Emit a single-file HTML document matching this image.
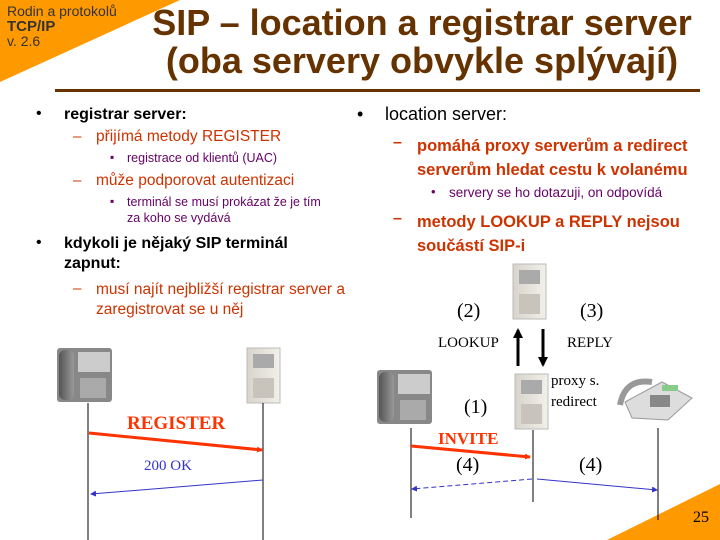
<!DOCTYPE html>
<html><head><meta charset="utf-8"><style>
body{margin:0;width:720px;height:540px;overflow:hidden;background:#fff;position:relative;font-family:"Liberation Sans",sans-serif}
.a{position:absolute;white-space:nowrap}
.t{color:#663300;font-weight:bold;font-size:36px;text-align:center;width:620px;left:112px;line-height:38px}
.s{font-family:"Liberation Serif",serif}
</style></head><body>
<svg width="720" height="540" style="position:absolute;left:0;top:0">
<defs>
<marker id="r" markerWidth="6" markerHeight="6" refX="5" refY="3" orient="auto" markerUnits="userSpaceOnUse"><path d="M0,0 L6,3 L0,6z" fill="#ff3300"/></marker>
<marker id="b" markerWidth="6" markerHeight="6" refX="5" refY="3" orient="auto" markerUnits="userSpaceOnUse"><path d="M0,0 L6,3 L0,6z" fill="#3333cc"/></marker>
<marker id="k" markerWidth="10" markerHeight="10" refX="8" refY="5" orient="auto" markerUnits="userSpaceOnUse"><path d="M0,0 L10,5 L0,10z" fill="#000"/></marker>
<linearGradient id="sv" x1="0" x2="1"><stop offset="0" stop-color="#d8d4cc"/><stop offset="1" stop-color="#f2f0ea"/></linearGradient>
<linearGradient id="ph" x1="0" x2="1"><stop offset="0" stop-color="#555"/><stop offset="1" stop-color="#999"/></linearGradient>
</defs>
<polygon points="0,0 180,0 0,82" fill="#ff9900"/>
<polygon points="720,484 720,540 607,540" fill="#ff9900"/>
<rect x="55" y="89" width="645" height="3" fill="#663300"/>
<g id="srv"><rect x="247" y="348" width="33" height="55" fill="url(#sv)" stroke="#bbb"/><rect x="253" y="354" width="21" height="14" fill="#aaa"/><rect x="253" y="378" width="21" height="20" fill="#c8c4bb"/></g>
<use href="#srv" x="266" y="-84"/>
<use href="#srv" x="268" y="26"/>
<g id="ph1"><rect x="57" y="348" width="55" height="54" rx="3" fill="#888"/><rect x="59" y="350" width="15" height="50" rx="6" fill="url(#ph)"/><rect x="78" y="352" width="32" height="20" fill="#ccc"/><rect x="80" y="378" width="26" height="20" fill="#aaa"/></g>
<use href="#ph1" x="320" y="22"/>
<path d="M625,402 L662,382 L692,398 L668,420 L632,418z" fill="#ddd" stroke="#999"/><path d="M620,405 Q625,378 652,382" stroke="#999" stroke-width="6" fill="none"/><rect x="662" y="385" width="16" height="6" fill="#8c8"/><rect x="650" y="395" width="20" height="12" fill="#888"/>
<g stroke="#000" stroke-width="1"><line x1="88" y1="403" x2="88" y2="540"/><line x1="263" y1="403" x2="263" y2="540"/><line x1="411" y1="428" x2="411" y2="518"/><line x1="533" y1="430" x2="533" y2="502"/><line x1="658" y1="428" x2="658" y2="520"/></g>
<line x1="89" y1="433" x2="262" y2="450" stroke="#ff3300" stroke-width="3" marker-end="url(#r)"/>
<line x1="263" y1="480" x2="91" y2="494" stroke="#3333cc" stroke-width="1" marker-end="url(#b)"/>
<line x1="411" y1="446" x2="530" y2="457" stroke="#ff3300" stroke-width="3" marker-end="url(#r)"/>
<line x1="532" y1="479" x2="412" y2="489" stroke="#3333cc" stroke-width="1" stroke-dasharray="5,3" marker-end="url(#b)"/>
<line x1="537" y1="479" x2="657" y2="490" stroke="#3333cc" stroke-width="1" marker-end="url(#b)"/>
<line x1="518" y1="366" x2="518" y2="330" stroke="#000" stroke-width="3" marker-end="url(#k)"/>
<line x1="543" y1="329" x2="543" y2="365" stroke="#000" stroke-width="3" marker-end="url(#k)"/>
</svg>
<div class="a" style="left:7px;top:4px;font-size:14px;color:#333;line-height:15px">Rodin a protokolů<br><b style="font-size:15px">TCP/IP</b><br>v. 2.6</div>
<div class="a t" style="top:4px">SIP – location a registrar server<br>(oba servery obvykle splývají)</div>
<div class="a" style="left:36px;top:105px;font-size:16px">•</div>
<div class="a" style="left:64px;top:106px;font-size:16px;font-weight:bold">registrar server:</div>
<div class="a" style="left:73px;top:128px;font-size:15px;color:#cc3300">–</div>
<div class="a" style="left:96px;top:128px;font-size:15.5px;color:#cc3300">přijímá metody REGISTER</div>
<div class="a" style="left:110px;top:150px;font-size:12px;color:#660066">▪</div>
<div class="a" style="left:127px;top:151px;font-size:12.5px;color:#660066">registrace od klientů (UAC)</div>
<div class="a" style="left:73px;top:172px;font-size:15px;color:#cc3300">–</div>
<div class="a" style="left:96px;top:172px;font-size:15.5px;color:#cc3300">může podporovat autentizaci</div>
<div class="a" style="left:110px;top:194px;font-size:12px;color:#660066">▪</div>
<div class="a" style="left:127px;top:194px;font-size:12.5px;color:#660066;line-height:16px">terminál se musí prokázat že je tím<br>za koho se vydává</div>
<div class="a" style="left:36px;top:234px;font-size:16px">•</div>
<div class="a" style="left:64px;top:234px;font-size:16px;line-height:20px;font-weight:bold">kdykoli je nějaký SIP terminál<br>zapnut:</div>
<div class="a" style="left:73px;top:280px;font-size:15px;color:#cc3300">–</div>
<div class="a" style="left:96px;top:280px;font-size:15.5px;color:#cc3300;line-height:20px">musí najít nejbližší registrar server a<br>zaregistrovat se u něj</div>
<div class="a" style="left:357px;top:104px;font-size:18px">•</div>
<div class="a" style="left:385px;top:104px;font-size:18px">location server:</div>
<div class="a" style="left:393px;top:134px;font-size:16px;color:#cc3300;font-weight:bold">–</div>
<div class="a" style="left:417px;top:134px;font-size:16.5px;color:#cc3300;font-weight:bold;line-height:24px">pomáhá proxy serverům a redirect<br>serverům hledat cestu k volanému</div>
<div class="a" style="left:431px;top:184px;font-size:13px;color:#660066">•</div>
<div class="a" style="left:449px;top:185px;font-size:13.5px;color:#660066">servery se ho dotazuji, on odpovídá</div>
<div class="a" style="left:393px;top:210px;font-size:16px;color:#cc3300;font-weight:bold">–</div>
<div class="a" style="left:417px;top:210px;font-size:16.5px;color:#cc3300;font-weight:bold;line-height:24px">metody LOOKUP a REPLY nejsou<br>součástí SIP-i</div>
<div class="a s" style="left:127px;top:413px;font-size:19px;font-weight:bold;color:#ff3300">REGISTER</div>
<div class="a s" style="left:144px;top:458px;font-size:15px;color:#3333cc">200 OK</div>
<div class="a s" style="left:457px;top:300px;font-size:20px">(2)</div>
<div class="a s" style="left:580px;top:300px;font-size:20px">(3)</div>
<div class="a s" style="left:438px;top:335px;font-size:15px">LOOKUP</div>
<div class="a s" style="left:567px;top:335px;font-size:15px">REPLY</div>
<div class="a s" style="left:551px;top:371px;font-size:15px;line-height:21px">proxy s.<br>redirect</div>
<div class="a s" style="left:464px;top:396px;font-size:20px">(1)</div>
<div class="a s" style="left:438px;top:429px;font-size:17px;font-weight:bold;color:#ff3300">INVITE</div>
<div class="a s" style="left:456px;top:454px;font-size:20px">(4)</div>
<div class="a s" style="left:579px;top:454px;font-size:20px">(4)</div>
<div class="a s" style="left:693px;top:509px;font-size:16px">25</div>
</body></html>
